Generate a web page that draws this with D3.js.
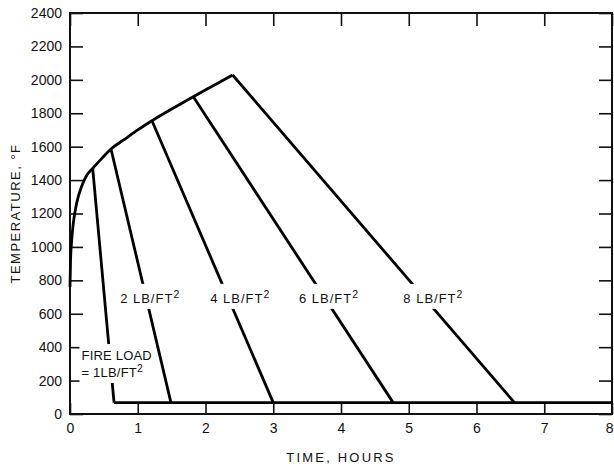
<!DOCTYPE html>
<html>
<head>
<meta charset="utf-8">
<script src="https://cdn.jsdelivr.net/npm/d3@7"></script>
<style>
    body { margin: 0; background: #fff; }
    svg { display: block; font-family: "Liberation Sans", Arial, sans-serif; }
</style>
</head>
<body>
<div id="chart"></div>
<script>
//Heating curve (time in hours, temperature in F)
var curveTime = [0, 0.008, 0.025, 0.05, 0.1, 0.17, 0.25, 0.335, 0.47, 0.605, 0.81, 1.0, 1.21, 1.5, 1.82, 2.1, 2.40];
var curveTemp = [760, 920, 1040, 1145, 1265, 1360, 1430, 1470, 1530, 1586, 1645, 1700, 1755, 1825, 1899, 1962, 2029];

//Decay lines, one per fire load
var fireLoads = [1, 2, 4, 6, 8];
var peakTime = [0.335, 0.605, 1.21, 1.82, 2.40];
var peakTemp = [1470, 1586, 1755, 1899, 2029];
var endTime = [0.65, 1.49, 3.0, 4.77, 6.56];
var ambientTemp = 68;

//Axis ticks
var xTicks = [0, 1, 2, 3, 4, 5, 6, 7, 8];
var yTicks = [0, 200, 400, 600, 800, 1000, 1200, 1400, 1600, 1800, 2000, 2200, 2400];

//Plot box (note: "top" is a window global, so use other names)
var width = 614, height = 469;
var plotLeft = 70, plotRight = 612, plotTop = 13, plotBottom = 414;

var svg = d3.select("#chart")
    .append("svg")
        .attr("width", width)
        .attr("height", height)
        .style("background-color", "#fff");

//Scales
var x = d3.scaleLinear().domain([0, 8]).range([plotLeft, plotRight]);
var y = d3.scaleLinear().domain([0, 2400]).range([plotBottom, plotTop]);

//Axes with inward ticks
function styleAxis(g) {
    g.select(".domain").remove();
    g.selectAll(".tick line").attr("stroke", "#111").attr("stroke-width", 1.6);
    g.selectAll(".tick text").attr("fill", "#111").style("font-size", "14px");
}

svg.append("g")
    .attr("transform", `translate(${plotLeft},0)`)
    .call(d3.axisLeft(y).tickValues(yTicks).tickSize(-13).tickPadding(8).tickFormat(d3.format("d")))
    .call(styleAxis);

svg.append("g")
    .attr("transform", `translate(${plotRight},0)`)
    .call(d3.axisRight(y).tickValues(yTicks).tickSize(-13).tickFormat(""))
    .call(styleAxis);

svg.append("g")
    .attr("transform", `translate(0,${plotBottom})`)
    .call(d3.axisBottom(x).tickValues(xTicks).tickSize(-11).tickPadding(9).tickFormat(d3.format("d")))
    .call(styleAxis)
    //last label sits at the page edge, keep it inside
    .selectAll(".tick text")
        .filter(function(d) { return d === 8; })
        .attr("text-anchor", "end")
        .attr("dx", 1);

svg.append("g")
    .attr("transform", `translate(0,${plotTop})`)
    .call(d3.axisTop(x).tickValues(xTicks).tickSize(-13).tickFormat(""))
    .call(styleAxis);

//Frame
svg.append("rect")
    .attr("x", plotLeft)
    .attr("y", plotTop)
    .attr("width", plotRight - plotLeft)
    .attr("height", plotBottom - plotTop)
    .attr("fill", "none")
    .attr("stroke", "#111")
    .attr("stroke-width", 2);

//Heating curve
var line = d3.line()
    .x(function(d) { return x(d[0]); })
    .y(function(d) { return y(d[1]); });

svg.append("path")
    .datum(curveTime.map(function(t, i) { return [t, curveTemp[i]]; }))
    .attr("d", line.curve(d3.curveMonotoneX))
    .attr("fill", "none")
    .attr("stroke", "#000")
    .attr("stroke-width", 2.8)
    .attr("stroke-linejoin", "round");

//Decay lines
line.curve(d3.curveLinear);
fireLoads.forEach(function(load, i) {
    svg.append("path")
        .datum([[peakTime[i], peakTemp[i]], [endTime[i], ambientTemp]])
        .attr("d", line)
        .attr("fill", "none")
        .attr("stroke", "#000")
        .attr("stroke-width", 2.8);
});

//Ambient floor line
svg.append("path")
    .datum([[endTime[0], ambientTemp], [8, ambientTemp]])
    .attr("d", line)
    .attr("fill", "none")
    .attr("stroke", "#000")
    .attr("stroke-width", 2.8);

//Labels with a white patch behind (lines are broken in the original)
function addLabel(lines, lx, ly, spacing) {
    var g = svg.append("g");
    var bg = g.append("rect").attr("fill", "#fff");
    var t = g.append("text")
        .attr("fill", "#111")
        .style("font-size", "13px")
        .style("letter-spacing", spacing + "px");
    lines.forEach(function(l, k) {
        var row = t.append("tspan")
            .attr("x", lx)
            .attr("y", ly + k * 17)
            .text(l);
        if (/FT$/.test(l)) {
            row.append("tspan")
                .attr("dy", -5)
                .style("font-size", "10.5px")
                .text("2");
        }
    });
    var box = t.node().getBBox();
    bg.attr("x", box.x - 2)
        .attr("y", box.y - 4)
        .attr("width", box.width + 4)
        .attr("height", box.height + 7);
}

addLabel(["2 LB/FT"], x(0.74), y(665), 1);
addLabel(["4 LB/FT"], x(2.07), y(665), 1);
addLabel(["6 LB/FT"], x(3.38), y(665), 1);
addLabel(["8 LB/FT"], x(4.92), y(665), 1);
addLabel(["FIRE LOAD", "= 1LB/FT"], x(0.17), y(323), 0.2);

//Axis titles
svg.append("text")
    .attr("x", (plotLeft + plotRight) / 2)
    .attr("y", 462)
    .attr("text-anchor", "middle")
    .attr("fill", "#111")
    .style("font-size", "13px")
    .style("letter-spacing", "2.2px")
    .text("TIME, HOURS");

svg.append("text")
    .attr("transform", `translate(20,${(plotTop + plotBottom) / 2}) rotate(-90)`)
    .attr("text-anchor", "middle")
    .attr("fill", "#111")
    .style("font-size", "13px")
    .style("letter-spacing", "1.5px")
    .text("TEMPERATURE, \u00B0F");
</script>
</body>
</html>
